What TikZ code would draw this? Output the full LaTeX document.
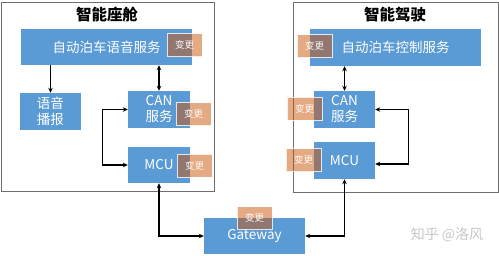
\documentclass[tikz,border=0pt]{standalone}
\usepackage{fontspec}
\setmainfont{Noto Sans CJK SC}
\usetikzlibrary{arrows.meta,calc}
\definecolor{boxblue}{RGB}{91,155,213}
\definecolor{tagorange}{RGB}{200,85,10}
\definecolor{framegray}{RGB}{110,110,110}
\begin{document}
\begin{tikzpicture}[x=1pt,y=-1pt,
  frame/.style={draw=framegray,line width=1pt},
  bluebox/.style={fill=boxblue,draw=none,text=white,inner sep=0pt,align=center,
    font=\fontsize{13.5}{16}\selectfont},
  tagbox/.style={fill=tagorange,fill opacity=0.5,draw=white,draw opacity=0.8,line width=0.6pt,
    text=white,text opacity=0.95,minimum width=35pt,minimum height=23pt,inner sep=0pt,
    font=\fontsize{9.5}{11}\selectfont},
  title/.style={font=\fontsize{15.5}{18}\selectfont\bfseries,inner sep=0pt},
  conn/.style={line width=1.1pt,black},
  tip/.style={-{Stealth[length=5pt,width=4.5pt]}},
  dtip/.style={{Stealth[length=5pt,width=4.5pt]}-{Stealth[length=5pt,width=4.5pt]}}
]
\useasboundingbox (0,0) rectangle (499,255);
% frames
\draw[frame] (1,2) rectangle (214,191);
\draw[frame] (293,2) rectangle (498,192);
\node[title] (tl) at (107,15) {智能座舱};
\node[title] (tr) at (395,15) {智能驾驶};
% left boxes
\node[bluebox,minimum width=171pt,minimum height=36pt] (topL) at (106.5,47) {自动泊车语音服务};
\node[bluebox,minimum width=61pt,minimum height=37pt] (yy) at (50.5,111.5) {语音\\播报};
\node[bluebox,minimum width=62pt,minimum height=37pt] (canL) at (159,109.5) {CAN\\服务};
\node[bluebox,minimum width=62pt,minimum height=36pt] (mcuL) at (159,165) {MCU};
% gateway
\node[bluebox,minimum width=101pt,minimum height=36pt] (gw) at (254.5,236) {Gateway};
% right boxes
\node[bluebox,minimum width=171pt,minimum height=37pt] (topR) at (395.5,47.5) {自动泊车控制服务};
\node[bluebox,minimum width=61pt,minimum height=37pt] (canR) at (344.5,109.5) {CAN\\服务};
\node[bluebox,minimum width=61pt,minimum height=37pt] (mcuR) at (344.5,160.5) {MCU};
% connectors
\draw[conn,tip] (yy.north |- topL.south) -- (yy.north);
\draw[conn,dtip] (canL.north |- topL.south) -- (canL.north);
\draw[conn,dtip] (canL.west) -- ++(-25,0) |- (mcuL.west);
\draw[conn,dtip] (mcuL.south) |- (gw.west);
\draw[conn,dtip] (canR.north |- topR.south) -- (canR.north);
\coordinate (mcuRin) at ($(mcuR.east)+(0,3.5)$);
\draw[conn,dtip] (canR.east) -- ++(33,0) |- (mcuRin);
\draw[conn,dtip] (mcuR.south) |- (gw.east);
% tags
\node[tagbox] (t1) at (184.5,45) {变更};
\node[tagbox] (t2) at (193.5,114) {变更};
\node[tagbox] (t3) at (194.5,165.5) {变更};
\node[tagbox] (t4) at (254.5,218) {变更};
\node[tagbox] (t5) at (314.5,46) {变更};
\node[tagbox] (t6) at (304.5,108.5) {变更};
\node[tagbox] (t7) at (303.5,160) {变更};
% watermark
\node[text=black!22,font=\fontsize{14}{16}\selectfont,inner sep=0pt] (wm) at (447,235) {知乎 @洛风};
\end{tikzpicture}
\end{document}
